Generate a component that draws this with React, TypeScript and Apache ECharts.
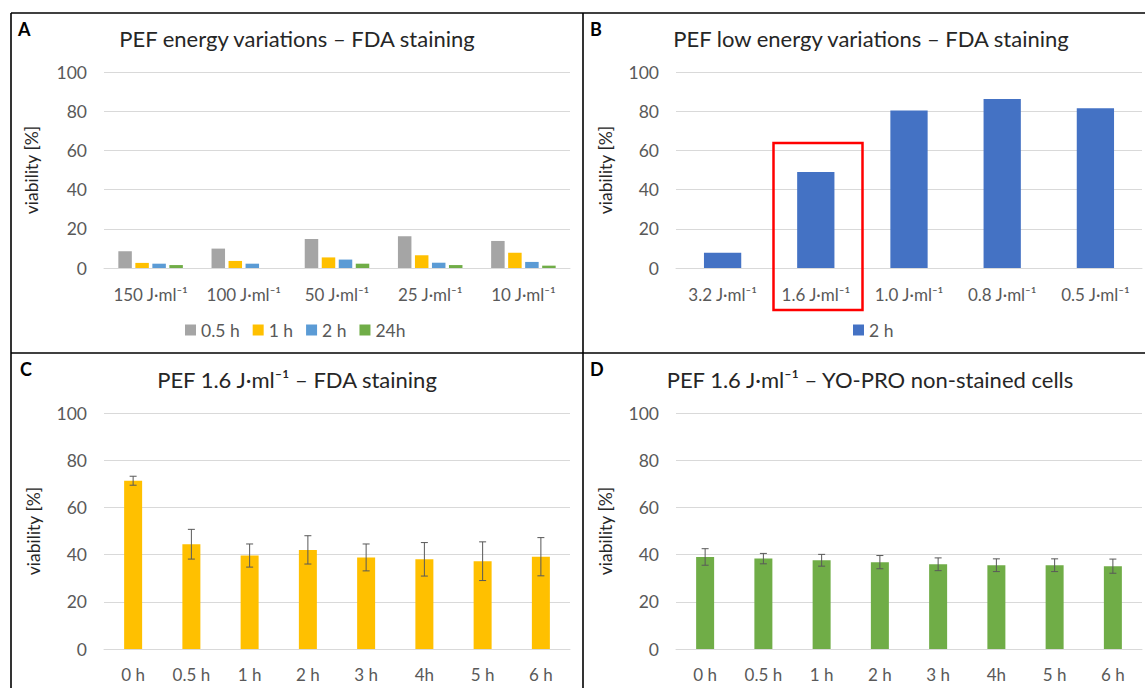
import React, { useEffect, useRef } from "react";
import * as echarts from "echarts";

const catsA = ["150 J·ml⁻¹", "100 J·ml⁻¹", "50 J·ml⁻¹", "25 J·ml⁻¹", "10 J·ml⁻¹"];
const seriesNamesA = ["0.5 h", "1 h", "2 h", "24h"];
const a05h = [8.5, 9.9, 14.8, 16.2, 13.8];
const a1h = [2.6, 3.6, 5.4, 6.5, 7.8];
const a2h = [2.2, 2.2, 4.3, 2.7, 3.1];
const a24h = [1.5, 0, 2.2, 1.5, 1.2];

const catsB = ["3.2 J·ml⁻¹", "1.6 J·ml⁻¹", "1.0 J·ml⁻¹", "0.8 J·ml⁻¹", "0.5 J·ml⁻¹"];
const b2h = [7.8, 49.0, 80.4, 86.2, 81.5];

const catsC = ["0 h", "0.5 h", "1 h", "2 h", "3 h", "4h", "5 h", "6 h"];
const cMeans = [71.3, 44.4, 39.6, 42.0, 38.8, 38.0, 37.2, 39.1];
const cErr = [1.9, 6.3, 4.9, 6.0, 5.7, 7.1, 8.2, 8.1];

const catsD = ["0 h", "0.5 h", "1 h", "2 h", "3 h", "4h", "5 h", "6 h"];
const dMeans = [39.0, 38.3, 37.6, 36.8, 35.9, 35.5, 35.5, 35.1];
const dErr = [3.5, 2.2, 2.5, 2.8, 2.7, 2.7, 2.7, 3.0];

const yTicks = { min: 0, max: 100, interval: 20 };

const FONT = "Lato, 'Noto Sans', sans-serif";
const TICK = "#595959";
const GRIDC = "#d9d9d9";
const colorsA = ["#a5a5a5", "#ffc000", "#5b9bd5", "#70ad47"];

function errRender(params: any, api: any) {
  const x = api.value(0);
  const lo = api.coord([x, api.value(1)]);
  const hi = api.coord([x, api.value(2)]);
  const w = 3.5;
  const style = { stroke: "#595959", lineWidth: 1 };
  return {
    type: "group",
    children: [
      { type: "line", shape: { x1: hi[0], y1: hi[1], x2: lo[0], y2: lo[1] }, style },
      { type: "line", shape: { x1: hi[0] - w, y1: hi[1], x2: hi[0] + w, y2: hi[1] }, style },
      { type: "line", shape: { x1: lo[0] - w, y1: lo[1], x2: lo[0] + w, y2: lo[1] }, style },
    ],
  };
}

export default function App() {
  const ref = useRef<HTMLDivElement>(null);
  useEffect(() => {
    if (!ref.current) return;
    const chart = echarts.init(ref.current, undefined, { renderer: "svg" });

    const grids = [
      { left: 104, top: 72, width: 466, height: 196 },
      { left: 676, top: 72, width: 466, height: 196 },
      { left: 104, top: 413, width: 466, height: 236 },
      { left: 676, top: 413, width: 466, height: 236 },
    ];
    const cats = [catsA, catsB, catsC, catsD];
    const nameGaps = [64, 62, 62, 62];
    const yNames = ["viability [%]", "viability [%]", "viability [%]", "viability [%]"];

    const xAxis = cats.map((c, i) => ({
      type: "category",
      gridIndex: i,
      data: c,
      axisTick: { show: false },
      axisLine: { lineStyle: { color: GRIDC, width: 1 } },
      axisLabel: { color: TICK, fontSize: 17, fontFamily: FONT, margin: i < 2 ? 18 : 17, interval: 0 },
    }));
    const yAxis = grids.map((g, i) => ({
      type: "value",
      gridIndex: i,
      min: yTicks.min,
      max: yTicks.max,
      interval: yTicks.interval,
      axisLine: { show: false },
      axisTick: { show: false },
      splitLine: { lineStyle: { color: GRIDC, width: 1 } },
      axisLabel: { color: TICK, fontSize: 17.5, fontFamily: FONT, margin: 17 },
      name: yNames[i],
      nameLocation: "middle",
      nameGap: nameGaps[i],
      nameTextStyle: { color: "#262626", fontSize: 17.5, fontFamily: FONT },
    }));

    const aData = [a05h, a1h, a2h, a24h];
    const series: any[] = aData.map((d, k) => ({
      type: "bar",
      name: seriesNamesA[k],
      xAxisIndex: 0,
      yAxisIndex: 0,
      data: d,
      barWidth: 13.5,
      barGap: "26%",
      itemStyle: { color: colorsA[k] },
    }));
    series.push({
      type: "bar",
      name: "2 h",
      xAxisIndex: 1,
      yAxisIndex: 1,
      data: b2h,
      barWidth: "40%",
      itemStyle: { color: "#4472c4" },
    });
    series.push({
      type: "bar",
      name: "C",
      xAxisIndex: 2,
      yAxisIndex: 2,
      data: cMeans,
      barWidth: 18,
      itemStyle: { color: "#ffc000" },
    });
    series.push({
      type: "custom",
      name: "C err",
      xAxisIndex: 2,
      yAxisIndex: 2,
      renderItem: errRender,
      data: cMeans.map((m, i) => [i, m - cErr[i], m + cErr[i]]),
      encode: { x: 0, y: [1, 2] },
      z: 5,
    });
    series.push({
      type: "bar",
      name: "D",
      xAxisIndex: 3,
      yAxisIndex: 3,
      data: dMeans,
      barWidth: 18,
      itemStyle: { color: "#70ad47" },
    });
    series.push({
      type: "custom",
      name: "D err",
      xAxisIndex: 3,
      yAxisIndex: 3,
      renderItem: errRender,
      data: dMeans.map((m, i) => [i, m - dErr[i], m + dErr[i]]),
      encode: { x: 0, y: [1, 2] },
      z: 5,
    });

    const titleStyle = (text: string, x: number, y: number) => ({
      type: "text",
      x,
      y,
      style: {
        text,
        fill: "#262626",
        font: `22px ${FONT}`,
        textAlign: "center",
        textVerticalAlign: "middle",
      },
    });
    const letter = (text: string, x: number, y: number) => ({
      type: "text",
      x,
      y,
      style: { text, fill: "#000", font: `bold 18px ${FONT}`, textAlign: "left", textVerticalAlign: "middle" },
    });
    const border = (x1: number, y1: number, x2: number, y2: number) => ({
      type: "line",
      shape: { x1, y1, x2, y2 },
      style: { stroke: "#000", lineWidth: 1.6 },
      z: 10,
    });

    chart.setOption({
      animation: false,
      backgroundColor: "#fff",
      grid: grids,
      xAxis,
      yAxis,
      legend: [
        {
          data: seriesNamesA,
          left: 185,
          top: 321,
          padding: 0,
          itemWidth: 11,
          itemHeight: 11,
          itemGap: 13,
          icon: "rect",
          textStyle: { color: TICK, fontSize: 17.5, fontFamily: FONT },
        },
        {
          data: [{ name: "2 h", itemStyle: { color: "#4472c4" } }],
          left: 853,
          top: 321,
          padding: 0,
          itemWidth: 11,
          itemHeight: 11,
          icon: "rect",
          textStyle: { color: TICK, fontSize: 17.5, fontFamily: FONT },
        },
      ],
      series,
      graphic: [
        border(11, 13, 1145, 13),
        border(11, 13, 11, 688),
        border(583, 13, 583, 688),
        border(11, 353, 1145, 353),
        titleStyle("PEF energy variations – FDA staining", 297, 38),
        titleStyle("PEF low energy variations – FDA staining", 871, 38),
        titleStyle("PEF 1.6 J·ml⁻¹ – FDA staining", 297, 379),
        titleStyle("PEF 1.6 J·ml⁻¹ – YO-PRO non-stained cells", 870, 379),
        letter("A", 18, 29),
        letter("B", 590, 29),
        letter("C", 20, 369),
        letter("D", 590, 369),
        {
          type: "rect",
          shape: { x: 773.5, y: 143, width: 89, height: 167 },
          style: { fill: "none", stroke: "#ff0000", lineWidth: 2.5 },
          z: 10,
        },
      ],
    });
    return () => chart.dispose();
  }, []);
  return (
    <div
      ref={ref}
      style={{ position: "absolute", left: 0, top: 0, width: 1145, height: 688 }}
    />
  );
}
